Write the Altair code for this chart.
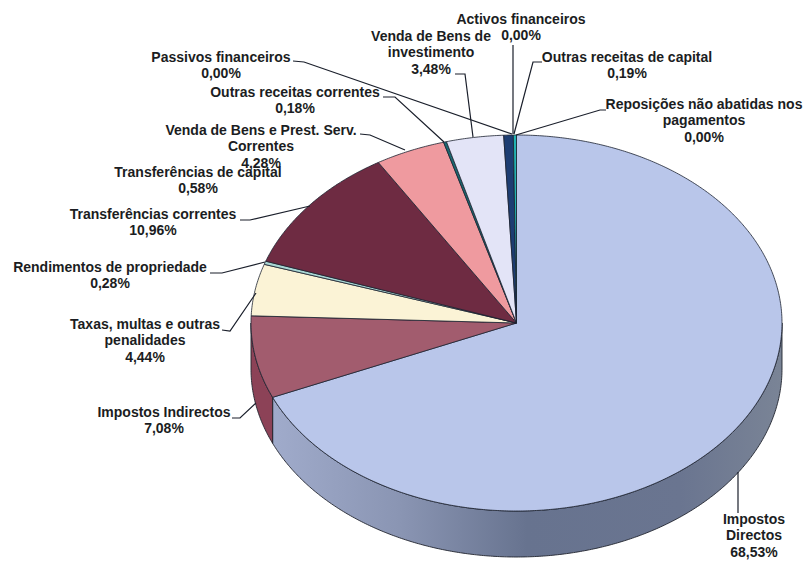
import math
import altair as alt
import pandas as pd

# ---- data
slice_names = ["Impostos Directos", "Impostos Indirectos", "Taxas, multas e outras penalidades",
               "Rendimentos de propriedade", "Transferências correntes",
               "Venda de Bens e Prest. Serv. Correntes", "Outras receitas correntes",
               "Venda de Bens de investimento", "Transferências de capital",
               "Outras receitas de capital"]
slice_values = [68.53, 7.08, 4.44, 0.28, 10.96, 4.28, 0.18, 3.48, 0.58, 0.19]
top_colors = ["#b9c6ea", "#a25c6e", "#fbf3d6", "#a9d6d4", "#6e2b42", "#ef9a9f",
              "#1c6a72", "#e3e4f7", "#1d3d72", "#22b3b3"]

label_lines = [
    ["Passivos financeiros", "0,00%"],
    ["Outras receitas correntes", "0,18%"],
    ["Venda de Bens e Prest. Serv.", "Correntes", "4,28%"],
    ["Transferências de capital", "0,58%"],
    ["Transferências correntes", "10,96%"],
    ["Rendimentos de propriedade", "0,28%"],
    ["Taxas, multas e outras", "penalidades", "4,44%"],
    ["Impostos Indirectos", "7,08%"],
    ["Impostos", "Directos", "68,53%"],
    ["Activos financeiros", "0,00%"],
    ["Venda de Bens de", "investimento", "3,48%"],
    ["Outras receitas de capital", "0,19%"],
    ["Reposições não abatidas nos", "pagamentos", "0,00%"],
]

# ---- layout
CX, CY, RX, RY, DEPTH = 516.5, 323, 265.5, 188, 46
W, H = 795, 552
label_cx = [221, 295, 261, 198, 153, 110, 145, 164, 754, 521, 431, 627, 704]
label_y = [58, 93, 131, 173, 215, 268, 325, 413, 520, 20, 37, 58, 105]
LINE_H = 16.3
leaders = [
    [(293, 61), (304, 62), (512, 134)],
    [(383, 97), (395, 97), (444, 142)],
    [(360, 134), (370, 135), (405, 150)],
    [(240, 220), (250, 220), (310, 206)],
    [(210, 273), (222, 273), (265, 262)],
    [(222, 330), (230, 331), (256, 293)],
    [(232, 418), (240, 418), (256, 403)],
    [(738, 472), (738, 513)],
    [(455, 74), (465, 74), (473, 137)],
    [(513, 45), (513, 134)],
    [(542, 62), (533, 62), (514, 134)],
    [(606, 110), (600, 110), (516, 135)],
]


def pt(t, dy=0.0):
    r = math.radians(t)
    return [CX + RX * math.sin(r), CY - RY * math.cos(r) + dy]


def arc(a, b):
    n = max(2, int(abs(b - a) * 2))
    return [a + (b - a) * i / n for i in range(n + 1)]


def feature(ring, color):
    return {"type": "Feature", "properties": {"color": color},
            "geometry": {"type": "Polygon", "coordinates": [ring + [ring[0]]]}}


top, walls = [], {}
angle = 0.0
for name, v, c in zip(slice_names, slice_values, top_colors):
    end = angle + v * 3.6
    top.append(feature([[CX, CY]] + [pt(t) for t in arc(angle, end)], c))
    a, b = max(angle, 90), min(end, 270)
    if b > a:
        ts = arc(a, b)
        walls[name] = feature([pt(t) for t in ts] + [pt(t, DEPTH) for t in reversed(ts)], c)
    angle = end


def geo(features):
    return alt.Data(values={"type": "FeatureCollection", "features": features},
                    format=alt.DataFormat(property="features", type="json"))


proj = dict(type="identity", scale=1, translate=[-8, -8])
wall_grad = alt.Gradient(
    gradient="linear", x1=0, x2=1, y1=0, y2=0,
    stops=[alt.GradientStop(offset=0, color="#a0abcb"),
           alt.GradientStop(offset=0.25, color="#8a95b3"),
           alt.GradientStop(offset=0.5, color="#67738f"),
           alt.GradientStop(offset=0.8, color="#6a7590"),
           alt.GradientStop(offset=1, color="#7a8496")])

wall_main = alt.Chart(geo([walls["Impostos Directos"]])).mark_geoshape(
    fill=wall_grad, stroke="#20242e", strokeWidth=0.9).project(**proj)
wall_other = alt.Chart(geo([walls["Impostos Indirectos"]])).mark_geoshape(
    fill="#8c4257", stroke="#20242e", strokeWidth=0.9).project(**proj)
faces = alt.Chart(geo(top)).mark_geoshape(stroke="#1c2230", strokeWidth=0.8).encode(
    fill=alt.Fill("properties.color:N", scale=None, legend=None)).project(**proj)

x_enc = alt.X("x:Q", scale=alt.Scale(domain=[8, 8 + W], nice=False, zero=False), axis=None)
y_enc = alt.Y("y:Q", scale=alt.Scale(domain=[8 + H, 8], nice=False, zero=False), axis=None)

leader_rows = [{"id": i, "o": j, "x": p[0], "y": p[1]}
               for i, line in enumerate(leaders) for j, p in enumerate(line)]
leader_layer = alt.Chart(pd.DataFrame(leader_rows)).mark_line(
    color="#1a1f2b", strokeWidth=1.2).encode(x=x_enc, y=y_enc, detail="id:N", order="o:Q")

text_rows = []
for lines, cx, y0 in zip(label_lines, label_cx, label_y):
    for k, s in enumerate(lines):
        text_rows.append({"x": cx, "y": y0 + k * LINE_H, "t": s})
text_layer = alt.Chart(pd.DataFrame(text_rows)).mark_text(
    font="Liberation Sans", fontWeight="bold", fontSize=14, color="#1b1d22",
    align="center", baseline="middle").encode(x=x_enc, y=y_enc, text="t:N")

chart = alt.layer(wall_main, wall_other, faces, leader_layer, text_layer).properties(
    width=W, height=H, padding=0, autosize=alt.AutoSizeParams(type="none"),
    background="white"
).configure_view(stroke=None)

chart.save("out.html", embed_options={"renderer": "svg", "actions": False})
